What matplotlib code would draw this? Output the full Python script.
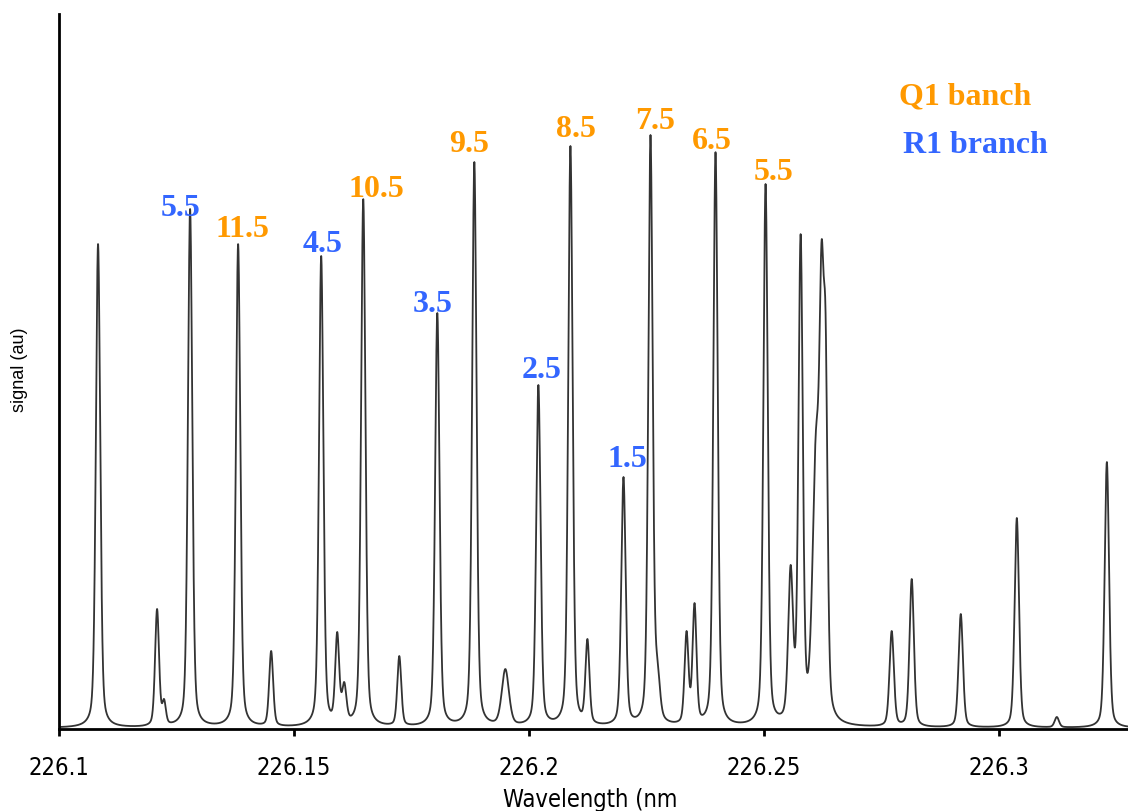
import numpy as np
import matplotlib
matplotlib.use("Agg")
import matplotlib.pyplot as plt
from matplotlib import font_manager

# ---- data (wavelength in nm, signal in arbitrary units) ----
peak_wl = [226.10831, 226.12087, 226.12236, 226.12790, 226.13812, 226.14515,
           226.15580, 226.15921, 226.16070, 226.16475, 226.17242, 226.18051,
           226.18839, 226.19499, 226.20202, 226.20884, 226.21246, 226.22013,
           226.22588, 226.22737, 226.23355, 226.23525, 226.23972, 226.25037,
           226.25570, 226.25783, 226.26110, 226.26230, 226.26315, 226.27721,
           226.28147, 226.29191, 226.30384, 226.31235, 226.32300]
peak_height = [485, 120, 30, 520, 485, 78,
               473, 97, 47, 530, 73, 416,
               567, 60, 344, 583, 90, 252,
               594, 70, 98, 126, 577, 545,
               164, 495, 300, 489, 413, 98,
               150, 115, 211, 12, 267]
peak_fwhm = [0.0011, 0.0010, 0.0009, 0.0011, 0.0011, 0.0010,
             0.0011, 0.0010, 0.0011, 0.0011, 0.0010, 0.0011,
             0.0011, 0.0018, 0.0011, 0.0011, 0.0010, 0.0011,
             0.0011, 0.0012, 0.0010, 0.0010, 0.0011, 0.0011,
             0.0012, 0.0011, 0.0017, 0.0011, 0.0010, 0.0011,
             0.0011, 0.0011, 0.0011, 0.0011, 0.0011]

q_labels = ["11.5", "10.5", "9.5", "8.5", "7.5", "6.5", "5.5"]
q_label_wl = [226.13898, 226.16752, 226.18733, 226.20991, 226.22695, 226.23887, 226.25208]
q_label_y = [493, 533, 578, 593, 601, 581, 550]
r_labels = ["5.5", "4.5", "3.5", "2.5", "1.5"]
r_label_wl = [226.12577, 226.15602, 226.17945, 226.20267, 226.22099]
r_label_y = [514, 478, 418, 352, 263]

x_ticks = [226.1, 226.15, 226.2, 226.25, 226.3]
x_tick_labels = ["226.1", "226.15", "226.2", "226.25", "226.3"]

baseline = 1.0
eta = 0.35

def profile(x, c, w):
    d = (x - c) / w
    return eta / (1 + 4 * d * d) + (1 - eta) * np.exp(-4 * np.log(2) * d * d)

c = np.array(peak_wl)
w = np.array(peak_fwhm)
h = np.array(peak_height, dtype=float)
M = profile(c[:, None], c[None, :], w[None, :])
amp = np.linalg.solve(M, h - baseline)
amp = np.clip(amp, 0, None)

x = np.linspace(226.1, 226.3275, 8000)
y = baseline + (amp[None, :] * profile(x[:, None], c[None, :], w[None, :])).sum(axis=1)

# ---- fonts ----
names = {f.name for f in font_manager.fontManager.ttflist}
narrow = "Liberation Sans Narrow" if "Liberation Sans Narrow" in names else "DejaVu Sans"
narrow_kw = dict(fontfamily=narrow)
if narrow == "DejaVu Sans":
    narrow_kw["fontstretch"] = "condensed"

fig = plt.figure(figsize=(11.28, 8.12), dpi=100)
ax = fig.add_axes([59 / 1128, (812 - 730) / 812, 1 - 59 / 1128, (730 - 15) / 812])
ax.plot(x, y, color="#333333", lw=1.3)
ax.set_xlim(226.1, 226.3275)
ax.set_ylim(0, 715)

for s in ("top", "right"):
    ax.spines[s].set_visible(False)
for s in ("left", "bottom"):
    ax.spines[s].set_linewidth(2.0)
    ax.spines[s].set_color("black")
ax.set_yticks([])
ax.set_xticks(x_ticks)
ax.set_xticklabels(x_tick_labels, fontsize=17, **narrow_kw)
ax.tick_params(axis="x", direction="out", length=5, width=2, pad=14)

orange = "#FF9900"
blue = "#3366FF"
lab_kw = dict(fontsize=23, fontweight="heavy", family="Liberation Serif")
for t, xx, yy in zip(q_labels, q_label_wl, q_label_y):
    ax.text(xx, yy, t, color=orange, ha="center", va="baseline", **lab_kw)
for t, xx, yy in zip(r_labels, r_label_wl, r_label_y):
    ax.text(xx, yy, t, color=blue, ha="center", va="baseline", **lab_kw)
ax.text(226.2787, 626, "Q1 banch", color=orange, ha="left", va="baseline", **lab_kw)
ax.text(226.27955, 577, "R1 branch", color=blue, ha="left", va="baseline", **lab_kw)

fig.text(590 / 1128, 1 - 800 / 812, "Wavelength (nm", fontsize=17,
         ha="center", va="center", **narrow_kw)
fig.text(20 / 1128, 1 - 370 / 812, "signal (au)", fontfamily="Liberation Sans", fontsize=13,
         ha="center", va="center", rotation=90)

fig.savefig("out.png", dpi=100)
